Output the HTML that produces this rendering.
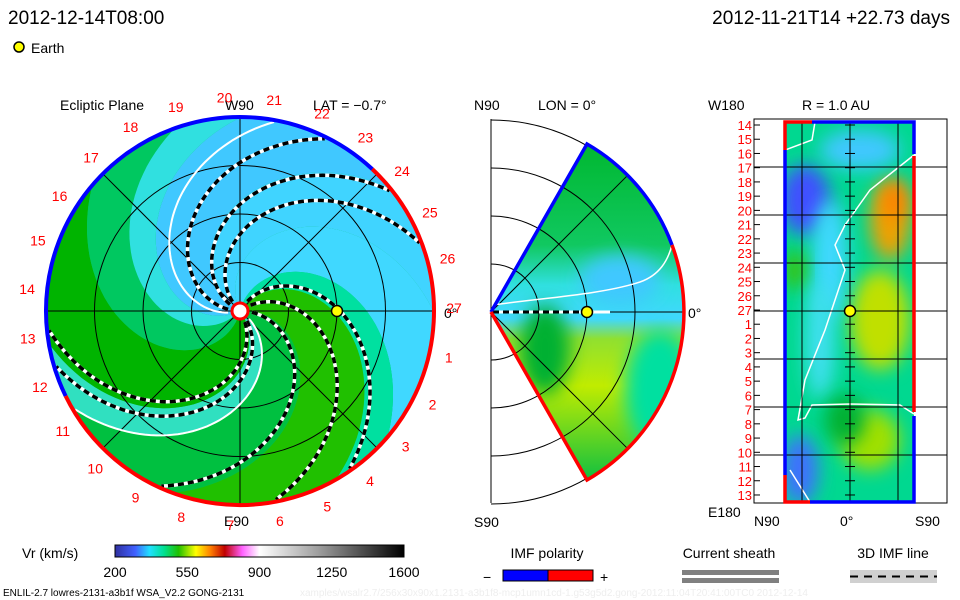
<!DOCTYPE html>
<html><head><meta charset="utf-8"><style>
html,body{margin:0;padding:0;background:#fff;width:960px;height:600px;overflow:hidden}
svg{display:block;font-family:"Liberation Sans",sans-serif}
</style></head><body>
<svg id="s" width="960" height="600" viewBox="0 0 960 600">
<defs>
<clipPath id="disc"><circle cx="240" cy="311" r="194"/></clipPath>
<clipPath id="wedge"><path d="M491,312 L587,144 A194,194 0 0 1 587,480 Z"/></clipPath>
<clipPath id="rect"><rect x="785" y="122" width="129" height="380"/></clipPath>
<filter id="blur" x="-50%" y="-50%" width="200%" height="200%"><feGaussianBlur stdDeviation="9"/></filter>
<linearGradient id="cbar" x1="0" x2="1" y1="0" y2="0">
<stop offset="0" stop-color="#3030a0"/><stop offset="0.07" stop-color="#4060ff"/><stop offset="0.12" stop-color="#20e0ff"/><stop offset="0.17" stop-color="#00e090"/><stop offset="0.22" stop-color="#20c000"/><stop offset="0.28" stop-color="#ffff00"/><stop offset="0.33" stop-color="#ff8000"/><stop offset="0.38" stop-color="#c00000"/><stop offset="0.44" stop-color="#ff60ff"/><stop offset="0.5" stop-color="#ffffff"/><stop offset="0.7" stop-color="#a0a0a0"/><stop offset="1" stop-color="#000000"/>
</linearGradient>
<linearGradient id="wg" x1="0" x2="0" y1="144" y2="480" gradientUnits="userSpaceOnUse">
<stop offset="0" stop-color="#00b830"/><stop offset="0.3" stop-color="#10c860"/><stop offset="0.42" stop-color="#30e0e0"/><stop offset="0.52" stop-color="#40d8ff"/><stop offset="0.58" stop-color="#90e030"/><stop offset="0.72" stop-color="#c0ec00"/><stop offset="1" stop-color="#10c040"/>
</linearGradient>
</defs>

<text x="8" y="24" font-size="19" fill="#000">2012-12-14T08:00</text>
<text x="950" y="24" font-size="19" fill="#000" text-anchor="end">2012-11-21T14 +22.73 days</text>
<circle cx="19" cy="47" r="5" fill="#ffff00" stroke="#000" stroke-width="1.5"/>
<text x="31" y="53" font-size="14">Earth</text>

<text x="60" y="110" font-size="14">Ecliptic Plane</text>
<text x="313" y="110" font-size="14">LAT = −0.7°</text>
<text x="225" y="110" font-size="14">W90</text>
<text x="224" y="526" font-size="14">E90</text>
<text x="444" y="318" font-size="14">0°</text>

<g id="left" clip-path="url(#disc)"></g>
<g id="leftover"></g>

<text x="474" y="110" font-size="14">N90</text>
<text x="538" y="110" font-size="14">LON = 0°</text>
<text x="474" y="527" font-size="14">S90</text>
<text x="688" y="318" font-size="14">0°</text>
<g id="mid"></g>

<text x="708" y="110" font-size="14">W180</text>
<text x="802" y="110" font-size="14">R = 1.0 AU</text>
<text x="708" y="517" font-size="14">E180</text>
<text x="754" y="526" font-size="14">N90</text>
<text x="840" y="526" font-size="14">0°</text>
<text x="915" y="526" font-size="14">S90</text>
<g id="right"></g>

<text x="22" y="558" font-size="14">Vr (km/s)</text>
<rect x="115" y="545" width="289" height="12" fill="url(#cbar)" stroke="#000" stroke-width="1"/>
<g id="cbticks"></g>

<text x="547" y="558" font-size="14" text-anchor="middle">IMF polarity</text>
<text x="483" y="582" font-size="14">−</text>
<rect x="503" y="570" width="45" height="11" fill="#0000ff" stroke="#000"/>
<rect x="548" y="570" width="45" height="11" fill="#ff0000" stroke="#000"/>
<text x="600" y="582" font-size="14">+</text>
<text x="729" y="558" font-size="14" text-anchor="middle">Current sheath</text>
<rect x="682" y="570" width="97" height="5" fill="#808080"/>
<rect x="682" y="578" width="97" height="5" fill="#808080"/>
<text x="893" y="558" font-size="14" text-anchor="middle">3D IMF line</text>
<rect x="850" y="570" width="87" height="13" fill="#d0d0d0"/>
<line x1="850" y1="576.5" x2="937" y2="576.5" stroke="#000" stroke-width="2" stroke-dasharray="8,6"/>
<text x="3" y="596" font-size="10">ENLIL-2.7 lowres-2131-a3b1f WSA_V2.2 GONG-2131</text>
<text x="300" y="596" font-size="10" fill="#eeeeee">xamples/wsalr2.7/256x30x90x1.2131-a3b1f8-mcp1umn1cd-1.g53g5d2.gong-2012:11:04T20:41:00TC0   2012-12-14</text>
</svg>
<script>
const NS='http://www.w3.org/2000/svg';
// ---- data ----
const cbTicks=[200,550,900,1250,1600];
const fieldLineStarts=[-60,-36,-1,48,59,-179,-154,-136];
const sheathStarts=[34,-195];
const bandStarts=[-206,-156,-116,-76,-56,-6,34,54,104,134];
const bandColors=['#40c8ff','#40d4ff','#40d8ff','#00e0a0','#20c000','#00c040','#30e0c0','#00b400','#00c860','#30e0e0'];
const carringtonLabels=[1,2,3,4,5,6,7,8,9,10,11,12,13,14,15,16,17,18,19,20,21,22,23,24,25,26,27];
const mapLabels=[14,15,16,17,18,19,20,21,22,23,24,25,26,27,1,2,3,4,5,6,7,8,9,10,11,12,13];
const earthR=0.5, earthLat=0;
// ---- helpers ----
function mk(tag,attrs,parent){const e=document.createElementNS(NS,tag);for(const k in attrs)e.setAttribute(k,attrs[k]);parent.appendChild(e);return e;}
const CX=240,CY=311,R=194,K=0.6;
function sp(phi0,r){const a=(phi0+K*r)*Math.PI/180;return [CX+r*Math.cos(a),CY+r*Math.sin(a)];}
function spiralPath(phi0,r0,r1){let d='';for(let r=r0;r<=r1;r+=3){const p=sp(phi0,r);d+=(d?'L':'M')+p[0].toFixed(1)+','+p[1].toFixed(1);}return d;}
const L=document.getElementById('left'),LO=document.getElementById('leftover');
mk('rect',{x:40,y:110,width:400,height:400,fill:'#00c060'},L);
for(let i=0;i<bandStarts.length;i++){
  const a=bandStarts[i],b=(i+1<bandStarts.length?bandStarts[i+1]:bandStarts[0]+360);
  let d='M'+CX+','+CY;
  for(let r=0;r<=260;r+=4){const p=sp(a,r);d+='L'+p[0].toFixed(1)+','+p[1].toFixed(1);}
  for(let r=260;r>=0;r-=4){const p=sp(b,r);d+='L'+p[0].toFixed(1)+','+p[1].toFixed(1);}
  const band=mk('path',{d:d+'Z',fill:bandColors[i]},L);
  
  
}
// grid
[48.5,97,145.5,194].forEach(r=>{mk('circle',{cx:CX,cy:CY,r:r,fill:'none',stroke:'#000','stroke-width':1},L);});
[0,45,90,135].forEach(a=>{const c=Math.cos(a*Math.PI/180),s=Math.sin(a*Math.PI/180);mk('line',{x1:CX-R*c,y1:CY-R*s,x2:CX+R*c,y2:CY+R*s,stroke:'#000','stroke-width':1},L);});
sheathStarts.forEach(p=>{const l=mk('path',{d:spiralPath(p,12,194),fill:'none',stroke:'#fff','stroke-width':2},L);
  
  });
fieldLineStarts.forEach(p=>{
  mk('path',{d:spiralPath(p,12,194),fill:'none',stroke:'#fff','stroke-width':3.5},L);
  const l=mk('path',{d:spiralPath(p,12,194),fill:'none',stroke:'#000','stroke-width':3.5,'stroke-dasharray':'6,4'},L);
  
  
});
// border
function arc(a0,a1,col){const p0=[CX+R*Math.cos(a0*Math.PI/180),CY+R*Math.sin(a0*Math.PI/180)],p1=[CX+R*Math.cos(a1*Math.PI/180),CY+R*Math.sin(a1*Math.PI/180)];const large=((a1-a0+360)%360)>180?1:0;
  return mk('path',{d:`M${p0[0]},${p0[1]}A${R},${R} 0 ${large} 1 ${p1[0]},${p1[1]}`,fill:'none',stroke:col,'stroke-width':4},LO);}
const bl=arc(154,313,'#0000ff');
const rl=arc(313,154+360,'#ff0000');
mk('circle',{cx:CX,cy:CY,r:8,fill:'#fff',stroke:'#ff0000','stroke-width':3},LO);
carringtonLabels.forEach((n,i)=>{const a=(12.6+i*13.33)*Math.PI/180;const t=mk('text',{x:(CX+214*Math.cos(a)).toFixed(1),y:(CY+214*Math.sin(a)+5).toFixed(1),'font-size':14,fill:'#ff0000','text-anchor':'middle'},LO);t.textContent=n;
  
  });
const e1=mk('circle',{cx:CX+earthR*R,cy:CY,r:5.5,fill:'#ffff00',stroke:'#000','stroke-width':1.5},LO);


// ---- middle wedge ----
const M=document.getElementById('mid'),MX=491,MY=312;
mk('line',{x1:MX,y1:119,x2:MX,y2:503,stroke:'#000','stroke-width':1},M);
[48,96,144,192].forEach(r=>{mk('path',{d:`M${MX},${MY-r}A${r},${r} 0 0 1 ${MX},${MY+r}`,fill:'none',stroke:'#000','stroke-width':1},M);});
const wg=mk('g',{'clip-path':'url(#wedge)'},M);
mk('rect',{x:480,y:130,width:220,height:360,fill:'url(#wg)'},wg);
mk('ellipse',{cx:545,cy:350,rx:25,ry:45,fill:'#00b030',filter:'url(#blur)'},wg);
mk('ellipse',{cx:620,cy:280,rx:40,ry:25,fill:'#40c8ff',filter:'url(#blur)'},wg);
mk('ellipse',{cx:660,cy:390,rx:35,ry:60,fill:'#00e0a0',filter:'url(#blur)'},wg);
[48,96,144].forEach(r=>{mk('circle',{cx:MX,cy:MY,r:r,fill:'none',stroke:'#000','stroke-width':1},wg);});
[-45,0,45].forEach(a=>{const c=Math.cos(a*Math.PI/180),s=Math.sin(a*Math.PI/180);mk('line',{x1:MX,y1:MY,x2:MX+194*c,y2:MY+194*s,stroke:'#000','stroke-width':1},wg);});
mk('path',{d:'M493,305 C540,298 600,295 640,282 C660,275 668,260 672,245',fill:'none',stroke:'#fff','stroke-width':1.5},wg);
mk('line',{x1:493,y1:312,x2:610,y2:312,stroke:'#fff','stroke-width':3},M);
mk('line',{x1:493,y1:312,x2:585,y2:312,stroke:'#000','stroke-width':3,'stroke-dasharray':'6,4'},M);
const mb=mk('path',{d:'M491,312 L587,144 A194,194 0 0 1 672,245',fill:'none',stroke:'#0000ff','stroke-width':3.5},M);

const mr=mk('path',{d:'M672,245 A194,194 0 0 1 587,480 L491,312',fill:'none',stroke:'#ff0000','stroke-width':3.5},M);

const e2=mk('circle',{cx:MX+earthR*192,cy:MY-earthLat,r:5.5,fill:'#ffff00',stroke:'#000','stroke-width':1.5},M);


// ---- right map ----
const RG=document.getElementById('right');
mk('rect',{x:754,y:119,width:193,height:384,fill:'#fff',stroke:'#000','stroke-width':1},RG);
const rc=mk('g',{'clip-path':'url(#rect)'},RG);
mk('rect',{x:785,y:122,width:129,height:380,fill:'#00d890'},rc);
[[805,200,25,35,'#4050ff'],[890,220,20,40,'#f0a000'],[895,200,12,20,'#ff8000'],[800,470,18,35,'#4070ff'],[880,320,30,50,'#c0e000'],[870,440,30,30,'#a0e000'],[830,260,18,60,'#40d8ff'],[795,270,10,20,'#40c000'],[820,340,15,60,'#40e0f0'],[860,150,40,20,'#40c8ff'],[845,420,20,25,'#00b030']].forEach(e=>{mk('ellipse',{cx:e[0],cy:e[1],rx:e[2],ry:e[3],fill:e[4],filter:'url(#blur)'},rc);});
mk('path',{d:'M785,150 L812,140 L815,122 M914,155 L870,190 L845,225 L835,245 L845,270 L825,330 L805,380 L798,420 L805,418 L812,405 L850,404 L900,405 L914,414 M790,470 L810,502',fill:'none',stroke:'#fff','stroke-width':1.5},rc);
[167,215,263,311,359,407,455].forEach(y=>{mk('line',{x1:754,y1:y,x2:947,y2:y,stroke:'#000','stroke-width':1},RG);});
[802,850,898].forEach(x=>{mk('line',{x1:x,y1:122,x2:x,y2:502,stroke:'#000','stroke-width':1},RG);});
mapLabels.forEach((n,i)=>{const y=125+i*14.23;mk('line',{x1:754,y1:y,x2:760,y2:y,stroke:'#000'},RG);mk('line',{x1:845,y1:y,x2:855,y2:y,stroke:'#000'},RG);
  const t=mk('text',{x:752,y:y+5,'font-size':13,fill:'#ff0000','text-anchor':'end'},RG);t.textContent=n;
  
  });
[['M785,150V122H812','#ff0000'],['M785,150V475','#0000ff'],['M785,475V502H810','#ff0000'],['M812,122H914V154','#0000ff'],['M914,156V412','#ff0000'],['M914,416V502H810','#0000ff']].forEach(b=>{mk('path',{d:b[0],fill:'none',stroke:b[1],'stroke-width':3.5},RG);});
const e3=mk('circle',{cx:850,cy:311-earthLat,r:5.5,fill:'#ffff00',stroke:'#000','stroke-width':1.5},RG);


// ---- colorbar ticks ----
const CB=document.getElementById('cbticks');
cbTicks.forEach(v=>{const x=115+(v-200)/(1400)*289;const t=mk('text',{x:x,y:577,'font-size':14,'text-anchor':'middle'},CB);t.textContent=v;
  
  });
</script>
</body></html>
